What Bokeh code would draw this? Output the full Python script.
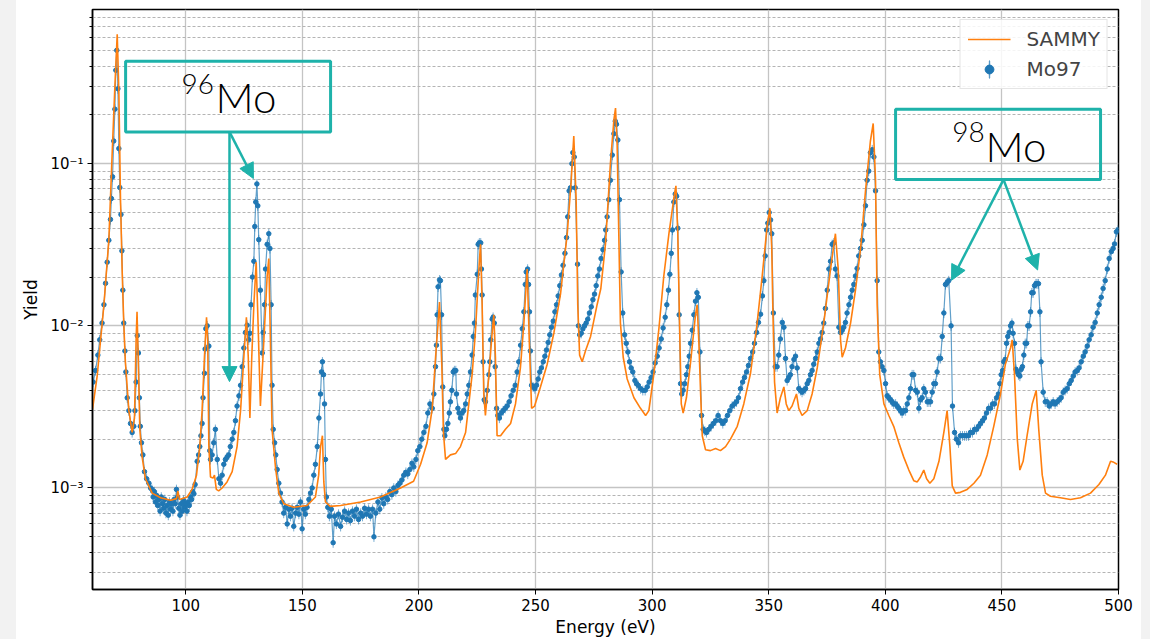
import numpy as np
from bokeh.plotting import figure
from bokeh.models import (ColumnDataSource, Range1d, FixedTicker, CustomJSTickFormatter,
                          Legend, LegendItem, BoxAnnotation, Label, Arrow, NormalHead, Spacer)
from bokeh.layouts import row
from bokeh.embed import file_html
from bokeh.resources import INLINE

# ---------------- measured data (Mo97) ----------------
data_e_a = [60.3, 61.3, 62.3, 63.1, 64.1, 64.9, 65.6, 66.3, 67.0, 67.7,
            68.1, 68.6, 69.1, 69.6, 70.0, 70.4, 70.9, 71.3, 71.7, 72.2,
            72.6, 73.0, 73.4, 73.9, 74.3, 74.9, 75.6, 76.3, 77.0, 77.7,
            78.2, 78.7, 79.2, 79.7, 80.1, 80.5, 81.0, 81.6, 82.3, 83.2,
            84.2, 84.9]
data_y_a = [.0045, .0053, .0066, .0082, .0104, .0135, .0183, .0247, .0337, .0453,
            .061, .083, .138, .217, .377, .50, .29, .124, .0713, .0486,
            .029, .0166, .0104, .007, .0052, .0036, .003, .0025, .0022, .0024,
            .0030, .0045, .0087, .0068, .0036, .0024, .0019, .0016, .00126, .00114,
            .00107, .00100]

data_e_b = [85.5, 86.0, 86.5, 87.0, 87.5, 88.0, 88.5, 89.0, 89.5, 90.0,
            90.5, 91.0, 91.5, 92.0, 92.5, 93.0, 93.5, 94.0, 94.5, 95.0,
            95.5, 96.0, 96.5, 97.0, 97.5, 98.0, 98.5, 99.0, 99.5, 100.0,
            100.5, 101.0, 101.5, 102.0, 102.5, 103.0, 103.5, 104.0]
data_y_b = [.00098, .00088, .00095, .00082, .0009, .00078, .00085, .00072, .00088, .0008,
            .00075, .00085, .0007, .00078, .00068, .00082, .00074, .0008, .00072, .00085,
            .0008, .00098, .00088, .00075, .00068, .0008, .00072, .00084, .00076, .0008,
            .00072, .00082, .00078, .00088, .00085, .00095, .00092, .00105]

data_e_c = [104.9, 105.5, 106.0, 106.5, 107.0, 107.4, 108.0, 108.3, 108.6, 109.2,
            109.9, 110.3, 110.6, 111.3, 112.0, 112.7, 113.5, 114.2, 114.9, 115.6,
            116.3, 117.0, 117.7, 118.4, 119.1, 119.9, 120.6, 121.3, 122.0, 122.8,
            123.5, 124.2, 124.9, 125.6, 126.3, 127.0, 127.5, 128.0, 128.6, 129.2,
            129.6, 130.0, 130.5, 130.9, 131.3, 132.0, 132.8, 133.2, 133.8, 134.2,
            134.9, 135.6, 136.1, 136.6, 137.0, 137.5, 138.1, 138.6, 139.2, 139.9,
            140.6, 141.3]
data_y_c = [.00146, .0016, .0018, .0021, .0025, .0036, .0051, .0072, .0096, .0100,
            .0075, .0017, .0015, .0016, .0019, .0023, .0015, .00114, .00107, .0012,
            .0014, .0015, .00155, .0016, .0018, .002, .0022, .0026, .0032, .0037,
            .0043, .0056, .0073, .0091, .0101, .0082, .009, .0135, .02, .025,
            .041, .058, .075, .055, .034, .0166, .0068, .0091, .0135, .0224,
            .0318, .037, .03, .0135, .0043, .0023, .0019, .0016, .0013, .00107,
            .00093, .00082]

data_e_d = [142.0, 142.8, 143.5, 144.2, 144.9, 145.6, 146.3, 147.1, 147.8, 148.5,
            149.2, 149.9, 150.6, 151.3, 152.0, 152.8, 153.5, 154.2, 154.9, 155.6,
            156.4, 157.1, 157.8, 158.2, 158.6, 159.1, 159.5, 159.9, 160.3, 160.9,
            161.6, 162.4, 163.2, 163.8, 164.6, 165.5, 166.4, 167.2, 168.1, 169.0,
            169.8, 170.6, 171.5, 172.4, 173.2, 174.1, 175.0, 175.8, 176.7, 177.5,
            178.4, 179.2, 180.1, 180.7, 181.5, 182.4, 183.2, 184.1, 184.9, 185.8,
            186.6, 187.5, 188.4, 189.2, 190.1, 191.0, 191.8, 192.7, 193.5, 194.4,
            195.2, 196.1, 197.0, 197.8, 198.7, 199.5, 200.4, 201.2, 202.1, 203.0,
            203.8, 204.7]
data_y_d = [.0007, .00076, .0006, .00074, .00067, .00075, .00058, .0007, .00076, .00069,
            .00082, .00056, .00074, .00069, .00076, .00085, .00093, .001, .0012, .0014,
            .0018, .0027, .0038, .0052, .006, .005, .0033, .0015, .00088, .00076,
            .00067, .00074, .00046, .00067, .0006, .00069, .00058, .00066, .00072, .00064,
            .0007, .00063, .00072, .00067, .00074, .00064, .0007, .00067, .00075, .00069,
            .00074, .00067, .00074, .0005, .0007, .00082, .00074, .00087, .0008, .00088,
            .00085, .00095, .00091, .001, .00095, .00104, .00107, .00112, .0012, .00125,
            .00122, .0013, .00142, .00135, .0015, .0017, .0018, .002, .0022, .0024,
            .0029, .0033]

data_e_e = [205.7, 206.4, 207.1, 207.5, 207.8, 208.2, 208.8, 209.2, 209.7, 210.2,
            210.7, 211.1, 211.8, 212.4, 213.0, 213.5, 214.1, 214.7, 215.2, 215.8,
            216.1, 216.7, 217.2, 217.8, 218.5, 219.2, 220.0, 220.7, 221.4, 222.1,
            222.8, 223.3, 223.8, 224.2, 225.0, 225.4, 225.9, 226.5, 226.8, 227.1,
            227.5, 228.0, 228.5, 229.3, 230.0, 230.4, 230.8, 231.4, 231.8, 232.3,
            232.7, 233.3, 233.8, 234.5, 235.3, 236.1, 237.0, 237.8, 238.7, 239.5,
            240.4, 241.3, 242.1, 242.8, 243.6, 244.3, 245.0, 245.6, 246.0, 246.6,
            247.0, 247.4, 247.8, 248.3, 249.0, 249.7, 250.4, 251.1, 251.8, 252.5,
            253.3, 254.0, 254.7, 255.4, 256.1, 256.8, 257.6, 258.3, 259.0, 259.7,
            260.4, 261.1, 261.8, 262.6, 263.3, 263.8, 264.4, 265.0, 265.6, 266.0,
            266.6, 267.0, 268.0, 268.4, 268.9, 269.6, 270.3, 271.0, 271.7, 272.4,
            273.1, 273.9, 274.6, 275.3, 276.0, 276.7, 277.4, 278.1, 278.9, 279.6]
data_y_e = [.0031, .0038, .0056, .0076, .0117, .0174, .0192, .019, .0117, .0042,
            .0023, .0021, .0023, .0025, .0029, .0034, .004, .0052, .0053, .0053,
            .0038, .0031, .0029, .0027, .0029, .003, .0033, .0038, .0043, .0052,
            .0066, .0086, .0104, .0155, .0208, .0318, .0325, .0325, .0224, .0155,
            .006, .0035, .0034, .004, .005, .006, .0082, .011, .0113, .0104,
            .0056, .0031, .0028, .0027, .0029, .003, .0031, .0032, .0034, .0037,
            .004, .0043, .0052, .006, .0076, .0096, .0122, .018, .0215, .0224,
            .018, .0122, .007, .0043, .0042, .0041, .0043, .0047, .0052, .0055,
            .006, .0065, .0071, .0079, .0088, .0098, .0107, .0122, .0135, .0153,
            .0177, .0206, .0236, .028, .035, .047, .068, .071, .1, .117,
            .11, .071, .024, .01, .0088, .009, .0096, .01, .0104, .011,
            .012, .0131, .0145, .0157, .0177, .0203, .0224, .026, .0295, .0337]

data_e_f = [280.1, 280.7, 281.4, 282.1, 282.9, 283.6, 284.2, 284.7, 285.3, 286.0,
            286.7, 287.4, 288.2, 288.9, 289.6, 290.3, 291.0, 291.7, 292.6, 293.3,
            294.0, 295.0, 296.0, 297.0, 297.9, 298.7, 299.6, 300.4, 301.3, 302.2,
            303.0, 303.9, 304.7, 305.6, 306.3, 307.0, 307.6, 308.2, 308.7, 309.3,
            309.9, 310.5, 311.0, 311.6, 312.2, 312.7, 313.3, 314.0, 314.7, 315.3,
            315.9, 316.5, 317.2, 317.9, 318.6, 319.2, 319.8, 320.5, 321.2, 321.9,
            322.6, 323.3, 324.3, 325.3, 326.3, 327.3, 328.3, 329.3, 330.3, 331.3,
            332.3, 333.3, 334.3, 335.3, 336.2, 337.0, 337.9, 338.8, 339.6, 340.5,
            341.3, 342.2, 343.1, 343.9, 344.8, 345.6, 346.5, 347.3, 347.9, 348.5,
            349.1, 349.6, 350.2, 350.8, 351.3, 352.0]
data_y_f = [.039, .047, .06, .079, .113, .153, .183, .175, .14, .06,
            .0215, .012, .0088, .0078, .0069, .006, .0055, .0052, .0046, .0044,
            .0043, .0041, .004, .004, .0042, .0045, .0048, .0052, .0059, .0065,
            .0073, .0083, .0097, .0113, .0135, .0166, .0208, .028, .039, .058,
            .065, .063, .04, .0117, .0044, .0038, .004, .0044, .005, .0056,
            .0065, .0078, .0094, .0117, .0142, .016, .015, .0069, .0028, .0023,
            .00225, .0022, .0023, .0024, .0025, .0026, .0028, .0026, .0025, .0026,
            .0028, .003, .0032, .0033, .0034, .0036, .0041, .0045, .0048, .0052,
            .0057, .0063, .0069, .0078, .0091, .0105, .0118, .0153, .019, .027,
            .039, .043, .05, .045, .037, .012]

data_e_g = [352.8, 353.6, 354.3, 355.0, 355.8, 356.5, 357.2, 357.9, 358.6, 359.3,
            360.0, 360.8, 361.5, 362.2, 362.9, 363.6, 364.3, 365.1, 365.8, 366.5,
            367.2, 367.9, 368.6, 369.3, 370.1, 370.8, 371.5, 372.2, 372.9, 373.6,
            374.3, 375.1, 375.8, 376.5, 377.2, 377.9, 378.6, 379.3, 380.1, 380.8,
            381.5, 382.2, 382.9, 383.6, 384.4, 385.1, 385.8, 386.5, 387.2, 387.9,
            388.6, 389.4, 390.1, 390.8, 391.5, 392.2, 392.9, 393.6, 394.4, 395.1,
            395.8, 396.5, 397.2, 397.9, 398.6, 399.4, 400.1, 400.8, 401.5, 402.2,
            402.9, 403.6, 404.4, 405.1, 405.8, 406.5, 407.2, 407.9, 408.7, 409.4,
            410.1, 410.8, 411.5, 412.2, 413.0, 413.7, 414.4, 415.1, 415.8, 416.5,
            417.2, 418.0, 418.7, 419.4, 420.1, 420.8, 421.5, 422.2, 423.0, 423.7,
            424.4, 425.1, 425.8]
data_y_g = [.0056, .0056, .0066, .0083, .0105, .0098, .0063, .0046, .0048, .005,
            .0056, .0062, .0065, .0055, .0041, .004, .0039, .004, .0041, .0044,
            .0046, .005, .0053, .0058, .0063, .0069, .0078, .0083, .0091, .0104,
            .0128, .0166, .0224, .025, .0318, .0325, .0224, .0203, .0098, .0091,
            .0094, .0098, .0105, .012, .0135, .015, .0166, .018, .0203, .0226,
            .027, .03, .0337, .042, .055, .079, .09, .117, .122, .11,
            .068, .019, .0069, .006, .0056, .0053, .0044, .0037, .0036, .0035,
            .0034, .0033, .0033, .0032, .0031, .003, .0029, .003, .003, .0033,
            .0036, .0041, .005, .005, .004, .0039, .0031, .0035, .0036, .0041,
            .0039, .0034, .0034, .0034, .0039, .0044, .0044, .0052, .0063, .0063,
            .0086, .012, .018]

data_e_h = [426.5, 427.2, 428.2, 428.8, 429.7, 430.5, 431.4, 432.2, 433.1, 434.0,
            434.8, 435.7, 436.5, 437.4, 438.3, 439.1, 440.0, 440.8, 441.7, 442.5,
            443.4, 444.3, 445.1, 446.0, 446.8, 447.7, 448.5, 449.1, 449.7, 450.3,
            450.8, 451.4, 452.0, 452.5, 453.1, 453.7, 454.3, 454.8, 455.4, 456.0,
            456.6, 457.1, 457.7, 458.3, 458.8, 459.4, 460.0, 460.6, 461.1, 461.7,
            462.3, 462.8, 463.4, 464.0, 464.6, 465.1, 465.7, 466.3, 466.8, 467.7,
            468.6, 469.4, 470.3, 471.1, 472.0, 472.8, 473.7, 474.6, 475.4, 476.3,
            477.1, 478.0, 478.9, 479.7, 480.6, 481.4, 482.3, 483.1, 484.0, 484.9,
            485.7, 486.6, 487.4, 488.3, 489.1, 490.0, 490.9, 491.7, 492.6, 493.4,
            494.3, 495.2, 496.0, 496.9, 497.7, 498.3, 499.1, 499.8]
data_y_h = [.0185, .019, .01, .0032, .0022, .002, .0019, .0021, .0021, .0021,
            .0021, .0021, .0022, .0022, .0023, .0023, .0024, .0025, .0026, .0027,
            .0029, .0031, .0031, .0033, .0033, .0036, .0038, .0044, .005, .0053,
            .006, .0062, .0078, .0086, .0091, .01, .0104, .009, .0078, .0054,
            .0052, .005, .0049, .0054, .0056, .0066, .0078, .0078, .01, .01,
            .0122, .016, .016, .0177, .0182, .0182, .0182, .0122, .006, .0039,
            .0034, .0034, .0032, .0033, .0034, .0033, .0034, .0035, .0036, .0039,
            .004, .0041, .0044, .0046, .0049, .0052, .0053, .0055, .006, .0065,
            .0069, .0075, .0082, .0088, .0098, .0105, .012, .0135, .015, .017,
            .019, .0224, .026, .0287, .03, .032, .038, .039]

data_rel_err = 0.07   # relative size of the error bars

# ---------------- SAMMY fit ----------------
sammy_e = [60.0, 62.0, 64.9, 67.0, 68.4, 69.6, 70.6, 71.3, 72.0, 72.7,
           73.4, 74.1, 75.6, 77.0, 78.0, 78.7, 79.1, 79.6, 80.3, 81.3,
           82.7, 85.6, 89.2, 93.5, 96.0, 96.6, 97.3, 100.6, 102.7, 104.6,
           106.0, 107.0, 108.0, 108.9, 109.4, 109.9, 110.6, 111.7, 112.3, 113.1,
           114.1, 115.6, 117.7, 119.9, 122.0, 123.5, 124.9, 126.0, 126.8, 127.5,
           128.3, 129.2, 130.2, 131.0, 132.0, 133.5, 134.9, 135.6, 136.3, 137.0,
           138.5, 139.9, 142.0, 146.3, 152.0, 155.6, 157.0, 157.8, 158.6, 159.2,
           159.9, 162.0, 166.4, 175.0, 183.5, 192.1, 197.7, 200.7, 203.5, 205.7,
           207.1, 208.1, 208.8, 209.8, 210.5, 211.4, 213.5, 215.7, 217.8, 220.0,
           220.7, 222.8, 224.2, 225.7, 226.4, 227.1, 227.8, 228.5, 230.0, 231.4,
           232.1, 232.8, 233.5, 235.0, 237.1, 239.3, 241.4, 243.5, 245.0, 246.4,
           247.3, 248.3, 249.6, 252.1, 255.0, 257.9, 260.7, 263.6, 265.3, 266.4,
           267.4, 268.1, 268.9, 270.0, 271.4, 273.6, 276.4, 278.0, 280.0, 282.1,
           283.6, 284.3, 285.0, 285.7, 286.4, 287.6, 289.3, 292.2, 295.0, 297.2,
           298.6, 300.7, 302.9, 305.0, 307.2, 309.3, 310.2, 311.0, 311.9, 312.5,
           313.3, 314.7, 316.5, 318.6, 319.3, 320.0, 320.8, 321.5, 322.9, 325.0,
           327.2, 329.3, 331.5, 333.6, 336.5, 339.3, 342.2, 345.0, 347.2, 349.3,
           350.5, 351.3, 351.8, 352.5, 353.6, 355.0, 356.5, 357.5, 358.6, 360.0,
           361.9, 362.9, 364.3, 366.5, 368.6, 370.8, 373.6, 376.5, 378.6, 379.8,
           380.8, 381.5, 382.9, 385.1, 387.2, 389.4, 391.5, 393.6, 394.8, 395.8,
           396.5, 397.6, 399.4, 401.5, 403.6, 405.8, 407.9, 410.1, 412.2, 413.7,
           415.1, 416.5, 417.7, 419.1, 420.8, 423.0, 425.1, 426.5, 427.7, 428.7,
           430.1, 432.2, 435.1, 438.0, 440.8, 443.7, 446.5, 449.4, 451.5, 453.7,
           454.4, 455.4, 456.6, 457.7, 459.1, 460.8, 463.0, 464.7, 465.8, 467.3,
           468.7, 470.8, 475.1, 479.4, 483.7, 488.0, 491.6, 494.4, 496.6, 498.0,
           499.4]
sammy_y = [.00305, .0049, .0135, .0337, .112, .30, .628, .28, .061, .0224,
           .0104, .006, .003, .0022, .0027, .0082, .0122, .0064, .0023, .00155,
           .00114, .00093, .00087, .00084, .00086, .00096, .00085, .00088, .00098, .0012,
           .0018, .003, .0064, .0113, .0082, .0018, .00117, .00115, .0012, .00098,
           .00096, .001, .00109, .00126, .0018, .003, .0064, .0113, .0064, .0027,
           .0064, .0135, .0247, .0104, .0032, .0082, .0203, .026, .0082, .0023,
           .00133, .00093, .0008, .00076, .00078, .00088, .0012, .0018, .0021, .00109,
           .00082, .00077, .00078, .00082, .00088, .001, .0011, .0014, .0019, .0031,
           .0063, .01, .014, .0057, .0022, .0015, .0016, .00163, .0018, .0022,
           .0027, .005, .0091, .0224, .0318, .0135, .0038, .0028, .005, .0091,
           .0117, .0064, .0021, .0021, .0023, .0025, .0033, .0055, .0104, .0224,
           .0082, .0031, .0032, .0042, .0058, .0091, .0157, .0372, .0787, .148,
           .061, .0135, .0066, .006, .007, .0086, .0135, .017, .032, .1,
           .186, .22, .13, .037, .0104, .0064, .0047, .0036, .0031, .0028,
           .003, .005, .0096, .0203, .037, .061, .073, .037, .0082, .0033,
           .0029, .0036, .006, .0117, .0135, .0082, .0038, .0021, .00172, .0017,
           .00175, .0017, .0018, .002, .0024, .0033, .0051, .0103, .0203, .041,
           .053, .03, .012, .0045, .0029, .0036, .0042, .0033, .003, .0032,
           .0038, .0031, .0028, .003, .0038, .0055, .0104, .0224, .037, .0224,
           .0082, .0064, .0073, .0104, .0166, .03, .068, .138, .177, .079,
           .0135, .005, .0033, .0028, .0024, .0019, .00155, .00129, .00111, .00109,
           .00117, .00129, .00114, .00107, .00114, .00146, .0022, .003, .0018, .00103,
           .00093, .00094, .00098, .00107, .0012, .0016, .0024, .0038, .0058, .0073,
           .0082, .005, .002, .00129, .00146, .0021, .0033, .004, .0023, .0012,
           .00093, .00089, .00087, .00085, .00087, .00093, .00105, .0012, .00146, .00144,
           .0014]

x_ticks = [100, 150, 200, 250, 300, 350, 400, 450, 500]
y_major = [1e-3, 1e-2, 1e-1]

data_e = (data_e_a + data_e_b + data_e_c + data_e_d + data_e_e + data_e_f
          + data_e_g + data_e_h)
data_y = (data_y_a + data_y_b + data_y_c + data_y_d + data_y_e + data_y_f
          + data_y_g + data_y_h)
assert len(data_e) == len(data_y)
assert len(sammy_e) == len(sammy_y)

BLUE = "#1f77b4"
ORANGE = "#ff7f0e"
TEAL = "#1eb2aa"

y_arr = np.array(data_y)
src = ColumnDataSource(dict(x=data_e, y=data_y,
                            lo=y_arr * (1 - data_rel_err), hi=y_arr * (1 + data_rel_err)))
sammy_src = ColumnDataSource(dict(x=sammy_e, y=sammy_y))

p = figure(width=1125, height=639, x_range=Range1d(60, 500),
           y_range=Range1d(2.366e-4, 0.893), y_axis_type="log",
           output_backend="svg", toolbar_location=None,
           min_border_left=76, min_border_right=23, min_border_top=9, min_border_bottom=47,
           background_fill_color="white", border_fill_color="white")

# grids
p.xgrid.grid_line_color = "#c4c4c4"
p.xgrid.grid_line_width = 1.3
p.ygrid.grid_line_color = "#c4c4c4"
p.ygrid.grid_line_width = 1.3
p.ygrid.minor_grid_line_color = "#b4b4b4"
p.ygrid.minor_grid_line_dash = "3 2"
p.ygrid.minor_grid_line_width = 1

# ticks
minor = [k * 10.0 ** d for d in (-4, -3, -2, -1) for k in range(2, 10)]
p.xaxis.ticker = FixedTicker(ticks=x_ticks, minor_ticks=[])
p.yaxis.ticker = FixedTicker(ticks=y_major, minor_ticks=minor)
p.yaxis.formatter = CustomJSTickFormatter(code="""
const e = Math.round(Math.log10(tick));
const sup = {"-": "\\u207b", "0": "\\u2070", "1": "\\u00b9", "2": "\\u00b2", "3": "\\u00b3",
             "4": "\\u2074", "5": "\\u2075", "6": "\\u2076", "7": "\\u2077", "8": "\\u2078", "9": "\\u2079"};
return "10" + String(e).split("").map(c => sup[c]).join("");
""")

for ax in (p.xaxis, p.yaxis):
    ax.axis_line_color = "black"
    ax.axis_line_width = 1.5
    ax.major_tick_out = 5
    ax.major_tick_in = 0
    ax.major_tick_line_color = "black"
    ax.minor_tick_out = 3
    ax.minor_tick_in = 0
    ax.minor_tick_line_color = "black"
    ax.major_label_text_font = "DejaVu Sans"
    ax.major_label_text_font_size = "15px"
    ax.major_label_text_color = "black"
    ax.axis_label_text_font = "DejaVu Sans"
    ax.axis_label_text_font_size = "17px"
    ax.axis_label_text_font_style = "normal"
    ax.axis_label_text_color = "black"
p.xaxis.major_label_standoff = 4
p.xaxis.axis_label_standoff = 3
p.yaxis.major_label_standoff = 4
p.yaxis.axis_label_standoff = 6
p.xaxis.axis_label = "Energy (eV)"
p.yaxis.axis_label = "Yield"

p.outline_line_color = "black"
p.outline_line_width = 1.5
p.outline_line_alpha = 1

# data
p.segment(x0="x", y0="lo", x1="x", y1="hi", source=src, line_color=BLUE, line_alpha=0.6, line_width=1)
p.line("x", "y", source=src, line_color=BLUE, line_alpha=0.7, line_width=1.2)
dots = p.scatter("x", "y", source=src, size=4.5, fill_color=BLUE, line_color=BLUE)
sammy_r = p.line("x", "y", source=sammy_src, line_color=ORANGE, line_width=1.6)

# legend proxy for the error-bar symbol: a hair-thin, tall ellipse parked outside the
# visible x range (its legend glyph keeps that aspect ratio -> a vertical bar)
legend_bar_x = [0.0]
legend_bar_y = [0.01]
bar_proxy = p.ellipse(x=legend_bar_x, y=legend_bar_y, width=0.3, height=20,
                      width_units="screen", height_units="screen",
                      fill_alpha=0, line_color=BLUE, line_width=1.5, line_alpha=0.75)

legend = Legend(items=[LegendItem(label="SAMMY", renderers=[sammy_r]),
                       LegendItem(label="Mo97", renderers=[bar_proxy, dots])],
                location="top_right", margin=10, padding=7, spacing=6,
                glyph_width=43, glyph_height=22, label_standoff=16,
                label_text_font="DejaVu Sans", label_text_font_size="20px",
                border_line_color="#cccccc", border_line_width=1,
                background_fill_alpha=0.85)
p.add_layout(legend)

# annotations
p.add_layout(BoxAnnotation(left=74.2, right=162.1, bottom=0.157, top=0.428,
                           fill_alpha=0, line_color=TEAL, line_alpha=1, line_width=3))
p.add_layout(BoxAnnotation(left=404.4, right=492.3, bottom=0.0798, top=0.217,
                           fill_alpha=0, line_color=TEAL, line_alpha=1, line_width=3))

def arrow(xs, ys, xe, ye):
    p.add_layout(Arrow(end=NormalHead(size=15, fill_color=TEAL, line_color=TEAL),
                       x_start=xs, y_start=ys, x_end=xe, y_end=ye,
                       line_color=TEAL, line_width=2.5))

arrow(118.75, 0.157, 129.0, 0.081)
arrow(118.75, 0.157, 118.75, 0.00453)
arrow(450.7, 0.0798, 428.4, 0.0191)
arrow(450.7, 0.0798, 465.3, 0.0221)

ann_font = "Lato Light"
p.add_layout(Label(x=98.17, y=0.3097, text="96", text_font=ann_font,
                   text_font_size="28px", text_baseline="alphabetic", text_color="black"))
p.add_layout(Label(x=112.75, y=0.2576, text="Mo", text_font=ann_font,
                   text_font_size="42px", text_baseline="alphabetic", text_color="black"))
p.add_layout(Label(x=428.7, y=0.1578, text="98", text_font=ann_font,
                   text_font_size="28px", text_baseline="alphabetic", text_color="black"))
p.add_layout(Label(x=442.97, y=0.1294, text="Mo", text_font=ann_font,
                   text_font_size="42px", text_baseline="alphabetic", text_color="black"))

left = Spacer(width=16, height=639, styles={"background-color": "#f2f2f2"})
right = Spacer(width=9, height=639, styles={"background-color": "#f2f2f2"})
layout = row(left, p, right)

open("out.html", "w").write(file_html(layout, INLINE))
